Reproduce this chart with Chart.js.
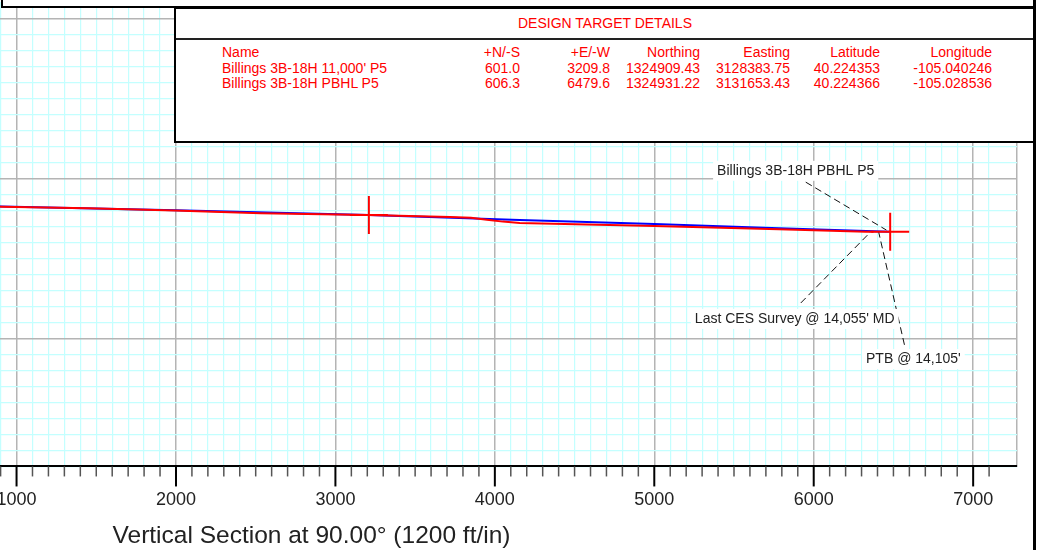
<!DOCTYPE html>
<html>
<head>
<meta charset="utf-8">
<script src="https://cdn.jsdelivr.net/npm/chart.js@4.4.1/dist/chart.umd.min.js"></script>
<style>
  html, body { margin: 0; padding: 0; background: #fff; overflow: hidden; }
  body { width: 1045px; height: 550px; position: relative; font-family: "Liberation Sans", Arial, sans-serif; }
  #wrap { position: absolute; left: -397px; top: 0; width: 1442px; height: 550px; }
  #topbox { position: absolute; box-sizing: border-box; left: 1px; top: -6px; width: 1035px; height: 14px; border: 2px solid #000; background: #fff; }
  #targets { position: absolute; box-sizing: border-box; left: 174px; top: 7px; width: 862px; height: 136px; border: 2px solid #000; background: #fff; color: #ff0000; font-size: 14px; }
  #targets .head { position: absolute; left: 0; right: 0; top: 0; height: 29px; border-bottom: 2px solid #222; text-align: center; line-height: 29px; }
  #targets .col { position: absolute; top: 36px; line-height: 15.5px; white-space: nowrap; }
  #edge { position: absolute; left: 1033px; top: 0; width: 3px; height: 550px; background: #000; }
</style>
</head>
<body>
<div id="wrap"><canvas id="vs-chart"></canvas></div>
<div id="topbox"></div>
<div id="targets"><div class="head">DESIGN TARGET DETAILS</div></div>
<div id="edge"></div>
<script>
// design targets (table + crosses)
const targetNames = ["Billings 3B-18H 11,000' P5", "Billings 3B-18H PBHL P5"];
const targetNS = ['601.0', '606.3'];
const targetEW = ['3209.8', '6479.6'];
const targetNorthing = ['1324909.43', '1324931.22'];
const targetEasting = ['3128383.75', '3131653.43'];
const targetLat = ['40.224353', '40.224366'];
const targetLon = ['-105.040246', '-105.028536'];
const targetTVD = [7227, 7331];

// plan (blue) and actual (red) in vertical section vs TVD
const planVS  = [600, 906, 2000, 3209.8, 4156, 5000, 5781, 6479.6];
const planTVD = [7163, 7174, 7197, 7227, 7258, 7283, 7310, 7331];
const actualVS  = [600, 906, 1450, 1988, 2531, 3206, 3719, 3850, 3950, 4050, 4156, 5000, 5781, 6328, 6375];
const actualTVD = [7163, 7175, 7185, 7198, 7216, 7227, 7239, 7244, 7256, 7268, 7276, 7296, 7316, 7331, 7332];

// callouts
const noteText = ["Billings 3B-18H PBHL P5", "Last CES Survey @ 14,055' MD", "PTB @ 14,105'"];
const noteVS  = [5887, 5881, 6625];
const noteTVD = [6950, 7877, 8128];
const leaderFromVS  = [5950, 5919, 6569];
const leaderFromTVD = [7021, 7777, 8039];
const leaderToVS  = [6456, 6362, 6406];
const leaderToTVD = [7321, 7327, 7327];

const xTitle = 'Vertical Section at 90.00\u00b0 (1200 ft/in)';

// build the table
const box = document.getElementById('targets');
const cols = [
  { head: 'Name', vals: targetNames, left: 46 },
  { head: '+N/-S', vals: targetNS, right: 344 },
  { head: '+E/-W', vals: targetEW, right: 434 },
  { head: 'Northing', vals: targetNorthing, right: 524 },
  { head: 'Easting', vals: targetEasting, right: 614 },
  { head: 'Latitude', vals: targetLat, right: 704 },
  { head: 'Longitude', vals: targetLon, right: 816 }
];
cols.forEach(c => {
  const d = document.createElement('div');
  d.className = 'col';
  if (c.left !== undefined) { d.style.left = c.left + 'px'; }
  else { d.style.left = (c.right - 150) + 'px'; d.style.width = '150px'; d.style.textAlign = 'right'; }
  d.innerHTML = [c.head].concat(c.vals).join('<br>');
  box.appendChild(d);
});

const pts = (xs, ys) => xs.map((v, i) => ({ x: +v, y: ys[i] }));

const leaders = noteText.map((t, i) => ({
  data: [{ x: leaderFromVS[i], y: leaderFromTVD[i] }, { x: leaderToVS[i], y: leaderToTVD[i] }],
  showLine: true, borderColor: '#111', borderWidth: 1, borderDash: [7, 4],
  pointRadius: 0, order: 5
}));

const extras = {
  id: 'extras',
  afterDatasetsDraw(chart) {
    const { ctx, scales: { x, y } } = chart;
    ctx.save();
    ctx.font = '14px "Liberation Sans", Arial, sans-serif';
    ctx.textAlign = 'center';
    ctx.textBaseline = 'middle';
    noteText.forEach((t, i) => {
      const px = x.getPixelForValue(noteVS[i]);
      const py = y.getPixelForValue(noteTVD[i]);
      const w = ctx.measureText(t).width;
      ctx.fillStyle = '#fff';
      ctx.fillRect(px - w / 2 - 4, py - 10, w + 8, 20);
      ctx.fillStyle = '#222';
      ctx.fillText(t, px, py);
    });
    ctx.restore();
  },
  afterDraw(chart) {
    const { ctx, scales: { x } } = chart;
    ctx.save();
    x.ticks.forEach(t => {
      if (t.value === x.min || t.value === x.max) return;
      const px = x.getPixelForValue(t.value);
      const major = t.value % 1000 === 0;
      ctx.strokeStyle = major ? '#000' : '#555';
      ctx.lineWidth = major ? 2 : 1.5;
      ctx.beginPath();
      ctx.moveTo(px, x.top);
      ctx.lineTo(px, x.top + (major ? 20 : 10));
      ctx.stroke();
    });
    ctx.restore();
  }
};

const isMajor = v => Math.abs(v % 1000) < 0.001;

new Chart(document.getElementById('vs-chart'), {
  type: 'scatter',
  data: {
    datasets: [
      {
        label: 'Targets', data: pts(targetEW, targetTVD),
        pointStyle: 'cross', pointRadius: 19, pointBorderColor: '#ff0000',
        pointBorderWidth: 2, showLine: false, order: 0
      },
      {
        label: 'Actual', data: pts(actualVS, actualTVD), showLine: true,
        borderColor: '#ff0000', borderWidth: 2, pointRadius: 0, order: 1
      },
      {
        label: 'Plan', data: pts(planVS, planTVD), showLine: true,
        borderColor: '#0000ff', borderWidth: 2, pointRadius: 0, order: 2
      }
    ].concat(leaders)
  },
  options: {
    responsive: true,
    maintainAspectRatio: false,
    animation: false,
    layout: { autoPadding: false, padding: { top: 3, right: 28, left: 0, bottom: 0 } },
    plugins: { legend: { display: false }, tooltip: { enabled: false } },
    scales: {
      x: {
        type: 'linear', position: 'bottom',
        min: -1575, max: 7275,
        border: { color: '#000', width: 2 },
        grid: {
          color: c => (isMajor(c.tick.value) || c.tick.value === 7275) ? '#b4b4b4' : '#c4ffff',
          lineWidth: c => (isMajor(c.tick.value) || c.tick.value === 7275) ? 1.5 : 1.2,
          drawTicks: true, tickLength: 20, tickColor: 'rgba(0,0,0,0)'
        },
        ticks: {
          stepSize: 100, autoSkip: false, maxRotation: 0, minRotation: 0, padding: 3,
          color: '#222', font: { family: '"Liberation Sans", Arial, sans-serif', size: 18 },
          callback: v => isMajor(v) ? String(v) : ''
        },
        title: {
          display: true, text: xTitle, color: '#222',
          font: { family: '"Liberation Sans", Arial, sans-serif', size: 24.5, lineHeight: 1.1 },
          padding: { top: 9, bottom: 0 }
        }
      },
      y: {
        type: 'linear', reverse: true,
        min: 5900, max: 8800,
        border: { display: false },
        afterFit: s => { s.width = 0; },
        grid: {
          color: c => isMajor(c.tick.value) ? '#b4b4b4' : '#c4ffff',
          lineWidth: c => isMajor(c.tick.value) ? 1.5 : 1.2,
          drawTicks: false
        },
        ticks: { stepSize: 100, display: false }
      }
    }
  },
  plugins: [extras]
});
</script>
</body>
</html>
